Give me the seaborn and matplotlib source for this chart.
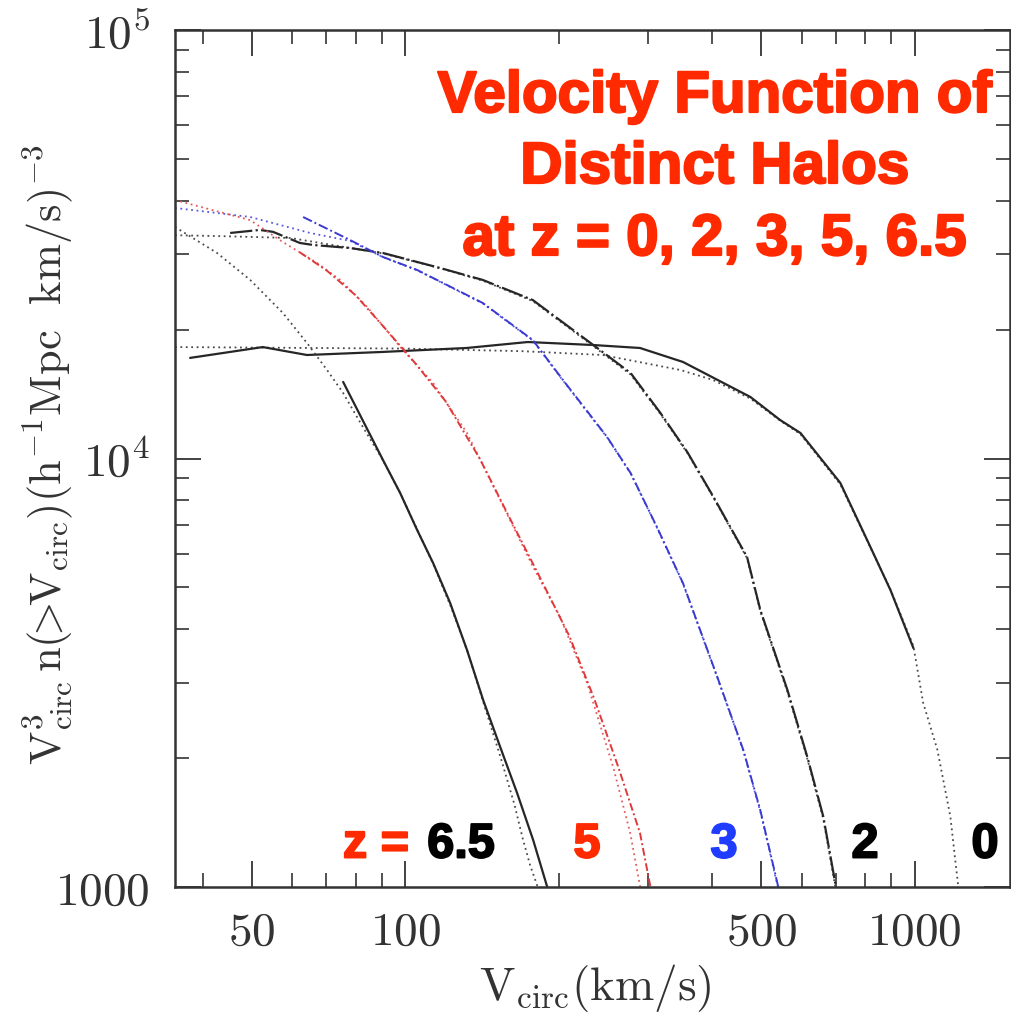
import matplotlib
matplotlib.use("Agg")
import matplotlib.pyplot as plt
import matplotlib.patheffects as pe
import seaborn as sns
from matplotlib.ticker import FixedLocator, FuncFormatter, NullFormatter

# ---------------- data ----------------
# z = 0 : simulation (solid) and fit (dotted)
z0_sim_v = [37.8, 52.5, 64.1, 90.4, 132, 174, 234, 289, 351, 476, 545, 597, 715, 819, 897, 995]
z0_sim_n = [17170, 18200, 17440, 17730, 18110, 18700, 18400, 18110, 16800, 13920, 12290, 11470, 8770, 6220, 4930, 3610]
z0_fit_v = [35.3, 100, 170, 244, 347, 402, 476, 545, 597, 715, 819, 897, 995, 1040, 1109, 1176, 1219, 1240]
z0_fit_n = [18200, 18050, 17800, 17440, 16090, 15250, 13800, 12250, 11400, 8700, 6200, 4950, 3650, 2690, 2090, 1460, 1000, 880]

# z = 2 : simulation (long dash) and fit (dotted)
z2_sim_v = [45.3, 51.8, 55.0, 62.1, 65.9, 77.9, 90.4, 117, 142, 178, 231, 277, 317, 358, 403, 469, 498, 563, 616, 662, 699, 705]
z2_sim_n = [33600, 34150, 33800, 31840, 31500, 30990, 30170, 27840, 26100, 23430, 18610, 15830, 12770, 10350, 8130, 5890, 4430, 2880, 2010, 1460, 1020, 960]
z2_fit_v = [35.3, 45, 59.5, 78, 90.4, 117, 142, 178, 231, 277, 317, 358, 403, 469, 498, 563, 616, 662, 699, 710]
z2_fit_n = [33200, 33000, 32700, 31000, 30100, 27800, 26000, 23300, 18500, 15700, 12700, 10300, 8100, 5850, 4400, 2850, 1990, 1440, 1000, 930]

# z = 3 : simulation (blue dash-dot) and fit (blue dotted)
z3_sim_v = [63.0, 77.9, 90.4, 105.5, 142, 178, 204, 249, 277, 312, 351, 410, 461, 498, 538, 545]
z3_sim_n = [36610, 32350, 29530, 27540, 23060, 18900, 15250, 11230, 9250, 6920, 5120, 3090, 2090, 1510, 1020, 960]
z3_fit_v = [35.3, 49.6, 65.0, 77.9, 90.4, 105.5, 142, 178, 204, 249, 277, 312, 351, 410, 461, 498, 538, 545]
z3_fit_n = [38430, 36610, 33600, 32200, 29500, 27500, 23000, 18850, 15200, 11200, 9230, 6900, 5100, 3080, 2080, 1500, 1010, 950]

# z = 5 : simulation (red dash-dot) and fit (red dotted)
z5_sim_v = [62, 70, 80, 92, 105, 120, 140, 160, 185, 210, 235, 262, 289, 303, 306]
z5_sim_n = [30300, 27500, 24000, 19900, 16600, 13600, 10000, 7300, 5200, 3850, 2750, 1905, 1337, 1000, 950]
z5_fit_v = [35.3, 49.6, 57.5, 67.1, 74.5, 84.1, 99.0, 113.4, 132.2, 153.6, 178.3, 201.4, 227.6, 256.0, 276.5, 289.3, 292]
z5_fit_n = [40100, 36000, 32000, 28600, 26100, 22600, 17900, 15000, 11470, 8000, 5580, 4270, 2990, 1905, 1337, 1000, 960]

# z = 6.5 : simulation (solid) and fit (dotted)
z65_sim_v = [75.5, 90.4, 97.7, 105.5, 113.4, 122.5, 132.2, 142.2, 153.6, 165.8, 178.3, 190.0, 192]
z65_sim_n = [15090, 9920, 8309, 6810, 5704, 4600, 3573, 2732, 2122, 1657, 1287, 1000, 960]
z65_fit_v = [35.3, 42.7, 49.6, 57.5, 64.1, 70.2, 75.5, 82, 90, 98, 106, 114, 123, 133, 143, 154, 164, 170, 176, 182, 184]
z65_fit_n = [34700, 30170, 26100, 21860, 18610, 16090, 14220, 12000, 10000, 8250, 6750, 5600, 4500, 3500, 2650, 2000, 1550, 1300, 1120, 1000, 960]

x_major = [50, 100, 500, 1000]
x_minor = [40, 60, 70, 80, 90, 200, 300, 400, 600, 700, 800, 900]
y_major = [1000, 10000, 100000]
y_major_labels = {1000: r"$1000$", 10000: r"$10^4$", 100000: r"$10^5$"}
y_minor = [2000, 3000, 4000, 5000, 6000, 7000, 8000, 9000,
           20000, 30000, 40000, 50000, 60000, 70000, 80000, 90000]

title_lines = ["Velocity Function of", "Distinct Halos", "at z = 0, 2, 3, 5, 6.5"]
z_labels = ["z =", "6.5", "5", "3", "2", "0"]

# ---------------- styling ----------------
sns.set_style("ticks")
plt.rcParams["mathtext.fontset"] = "cm"
plt.rcParams["font.family"] = ["DejaVu Serif"]

BLACK = "#262626"
GREY = "#4a4a4a"
RED_L = "#e0393b"
RED_D = "#e65a5c"
BLUE_L = "#3a3ad2"
BLUE_D = "#5a5ae0"

fig = plt.figure(figsize=(10.12, 10.19), dpi=100)
ax = fig.add_axes([175 / 1012, 1 - 887 / 1019, (1010 - 175) / 1012, (887 - 30) / 1019])
ax.set_xscale("log")
ax.set_yscale("log")

series = [
    (z0_fit_v, z0_fit_n, GREY, 1.3, (0, (1, 2))),
    (z0_sim_v, z0_sim_n, BLACK, 1.6, "-"),
    (z2_fit_v, z2_fit_n, GREY, 1.3, (0, (1, 2))),
    (z2_sim_v, z2_sim_n, BLACK, 1.6, (0, (10, 1.5, 1, 1.5))),
    (z3_fit_v, z3_fit_n, BLUE_D, 1.3, (0, (1, 2))),
    (z3_sim_v, z3_sim_n, BLUE_L, 1.4, (0, (5, 1.5, 1, 1.5))),
    (z5_fit_v, z5_fit_n, RED_D, 1.3, (0, (1, 2))),
    (z5_sim_v, z5_sim_n, RED_L, 1.4, (0, (4, 1.5, 1, 1.5))),
    (z65_fit_v, z65_fit_n, GREY, 1.3, (0, (1, 2))),
    (z65_sim_v, z65_sim_n, BLACK, 1.6, "-"),
]
for v, n, c, lw, ls in series:
    sns.lineplot(x=v, y=n, ax=ax, color=c, linewidth=lw, linestyle=ls,
                 sort=False, estimator=None, legend=False)

ax.set_xlim(35.3, 1540)
ax.set_ylim(1000, 100000)

ax.xaxis.set_major_locator(FixedLocator(x_major))
ax.xaxis.set_minor_locator(FixedLocator(x_minor))
ax.xaxis.set_major_formatter(FuncFormatter(lambda v, p: r"$%d$" % round(v)))
ax.xaxis.set_minor_formatter(NullFormatter())
ax.yaxis.set_major_locator(FixedLocator(y_major))
ax.yaxis.set_minor_locator(FixedLocator(y_minor))
ax.yaxis.set_major_formatter(FuncFormatter(lambda v, p: y_major_labels.get(int(round(v)), "")))
ax.yaxis.set_minor_formatter(NullFormatter())

ax.tick_params(which="both", direction="in", top=True, right=True, colors="#333333")
ax.tick_params(which="major", length=19, width=1.3, labelsize=34, labelcolor="#333333")
ax.tick_params(axis="x", which="major", pad=16)
ax.tick_params(axis="y", which="major", pad=18)
ax.tick_params(which="minor", length=10, width=1.2)
for s in ax.spines.values():
    s.set_linewidth(1.8)
    s.set_color("#333333")

ax.set_xlabel(r"$\mathrm{V_{circ}(km/s)}$", fontsize=34, color="#333333")
ax.xaxis.label.set_va("center")
ax.xaxis.set_label_coords((595 - 175) / 835, (887 - 988) / 857)
ax.set_ylabel(r"$\mathrm{V^3_{circ}\,n(\!\!>\!\!V_{circ})(h^{-1}Mpc\ \ km/s)^{-3}}$",
              fontsize=32, color="#333333")
ax.yaxis.label.set_va("center")
ax.yaxis.set_label_coords((48 - 175) / 835, (887 - 455) / 857)

# ---------------- annotations ----------------
bold = dict(family=["Liberation Sans", "DejaVu Sans"], weight="bold")
RED_T = "#ff2a00"
for line, yc in zip(title_lines, [97, 168, 240]):
    fig.text(715 / 1012, 1 - yc / 1019, line, ha="center", va="center",
             fontsize=42, color=RED_T,
             path_effects=[pe.withStroke(linewidth=1.6, foreground=RED_T)], **bold)

z_cols = [RED_T, "black", RED_T, "#1f3cff", "black", "black"]
z_xc = [376, 461, 587, 724, 865, 985]
for lab, xc, col in zip(z_labels, z_xc, z_cols):
    fig.text(xc / 1012, 1 - 845 / 1019, lab, ha="center", va="center",
             fontsize=35, color=col,
             path_effects=[pe.withStroke(linewidth=1.4, foreground=col)], **bold)

fig.savefig("out.png", dpi=100)
